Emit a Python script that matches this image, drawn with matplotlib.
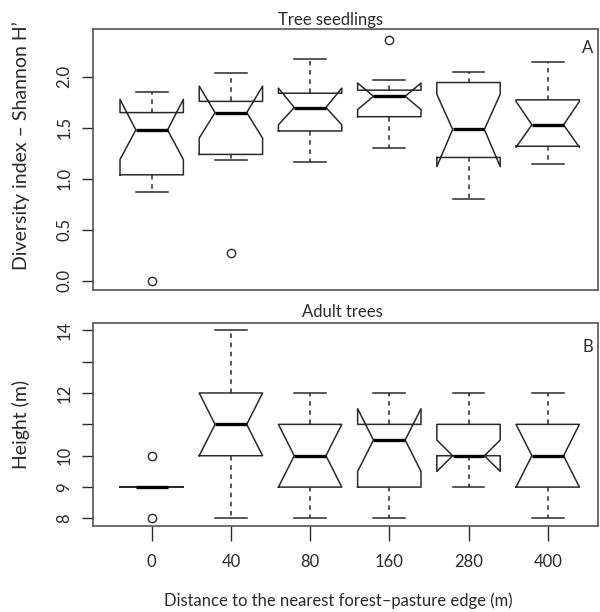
import numpy as np
import matplotlib
matplotlib.use('Agg')
import matplotlib.pyplot as plt

# Distance classes (m)
distances = ['0', '40', '80', '160', '280', '400']

# Tree seedlings - Shannon H'
seedWhisLo = [0.87, 1.19, 1.17, 1.30, 0.80, 1.15]
seedQ1 = [1.04, 1.24, 1.47, 1.61, 1.21, 1.32]
seedMed = [1.48, 1.65, 1.70, 1.81, 1.485, 1.53]
seedQ3 = [1.65, 1.76, 1.84, 1.87, 1.945, 1.775]
seedWhisHi = [1.85, 2.04, 2.18, 1.97, 2.05, 2.15]
seedCiLo = [1.19, 1.40, 1.53, 1.68, 1.12, 1.31]
seedCiHi = [1.78, 1.91, 1.89, 1.94, 1.83, 1.76]
seedFliers = [[0.0], [0.27], [], [2.36], [], []]

# Adult trees - height (m)
treeWhisLo = [9, 8, 8, 8, 9, 8]
treeQ1 = [9, 10, 9, 9, 10, 9]
treeMed = [9, 11, 10, 10.5, 10, 10]
treeQ3 = [9, 12, 11, 11, 11, 11]
treeWhisHi = [9, 14, 12, 12, 12, 12]
treeCiLo = [9, 10, 9, 9.5, 9.5, 9]
treeCiHi = [9, 12, 11, 11.5, 10.5, 11]
treeFliers = [[8, 10], [], [], [], [], []]

seedTicks = [0.0, 0.5, 1.0, 1.5, 2.0]
seedTickLabels = ['0.0', '0.5', '1.0', '1.5', '2.0']
treeTicks = [8, 9, 10, 11, 12, 13, 14]
treeTickLabels = ['8', '9', '10', '', '12', '', '14']

INK = '#2a2a2a'
FONT = 12
YFONT = 14


def buildStats(whislo, q1, med, q3, whishi, cilo, cihi, fliers):
    stats = []
    for i in range(len(med)):
        stats.append(dict(whislo=whislo[i], q1=q1[i], med=med[i], q3=q3[i],
                          whishi=whishi[i], cilo=cilo[i], cihi=cihi[i],
                          fliers=np.array(fliers[i])))
    return stats


def drawPanel(ax, stats, ylim, ticks, tickLabels, letter, letterY):
    ax.bxp(stats, positions=range(1, len(stats) + 1), widths=0.8, shownotches=True,
           boxprops=dict(color=INK, linewidth=1.1),
           medianprops=dict(color='black', linewidth=2.4, solid_capstyle='butt'),
           whiskerprops=dict(color=INK, linewidth=1.1, linestyle=(0, (3, 3))),
           capprops=dict(color=INK, linewidth=1.1),
           flierprops=dict(marker='o', markerfacecolor='none', markeredgecolor=INK,
                           markersize=6, markeredgewidth=1.0))
    ax.set_xlim(0.259, 6.635)
    ax.set_ylim(*ylim)
    ax.set_yticks(ticks)
    ax.set_yticklabels(tickLabels, rotation=90, va='center', fontsize=FONT, color=INK)
    ax.tick_params(axis='y', direction='out', length=8, width=1.0, color=INK, pad=7)
    for sp in ax.spines.values():
        sp.set_color('#555555')
        sp.set_linewidth(1.2)
    ax.text(0.98, letterY, letter, transform=ax.transAxes, ha='center', va='center',
            fontsize=FONT, color=INK)


def main():
    plt.rcParams['font.family'] = ['Lato', 'DejaVu Sans']
    fig = plt.figure(figsize=(6.0, 6.12), dpi=100)

    axTop = fig.add_axes([0.155, 0.5261, 0.8417, 0.4257])
    axBot = fig.add_axes([0.155, 0.1405, 0.8417, 0.3322])

    seedStats = buildStats(seedWhisLo, seedQ1, seedMed, seedQ3, seedWhisHi,
                           seedCiLo, seedCiHi, seedFliers)
    treeStats = buildStats(treeWhisLo, treeQ1, treeMed, treeQ3, treeWhisHi,
                           treeCiLo, treeCiHi, treeFliers)

    drawPanel(axTop, seedStats, (-0.09, 2.465), seedTicks, seedTickLabels, 'A', 0.928)
    drawPanel(axBot, treeStats, (7.76, 14.24), treeTicks, treeTickLabels, 'B', 0.882)

    # no x axis on the upper panel
    axTop.set_xticks([])
    axBot.set_xticks(range(1, len(distances) + 1))
    axBot.set_xticklabels(distances, fontsize=FONT, color=INK)
    axBot.tick_params(axis='x', direction='out', length=11, width=1.0, color=INK, pad=9)

    # titles and axis labels placed in figure pixels
    W, H = 600.0, 612.0
    fig.text(383 / W, 1 - 25 / H, 'Tree seedlings', ha='right', va='baseline',
             fontsize=FONT, color=INK)
    fig.text(383 / W, 1 - 317 / H, 'Adult trees', ha='right', va='baseline',
             fontsize=FONT, color=INK)
    fig.text(21 / W, 1 - 146 / H, "Diversity index \u2013 Shannon H\u2019", rotation=90,
             ha='center', va='center', fontsize=YFONT, color=INK)
    fig.text(21 / W, 1 - 424 / H, 'Height (m)', rotation=90,
             ha='center', va='center', fontsize=YFONT, color=INK)
    fig.text(338 / W, 1 - 601 / H, 'Distance to the nearest forest\u2013pasture edge (m)',
             ha='center', va='center', fontsize=FONT, color=INK)

    plt.savefig('out.png', dpi=100)


if __name__ == "__main__":
    main()
